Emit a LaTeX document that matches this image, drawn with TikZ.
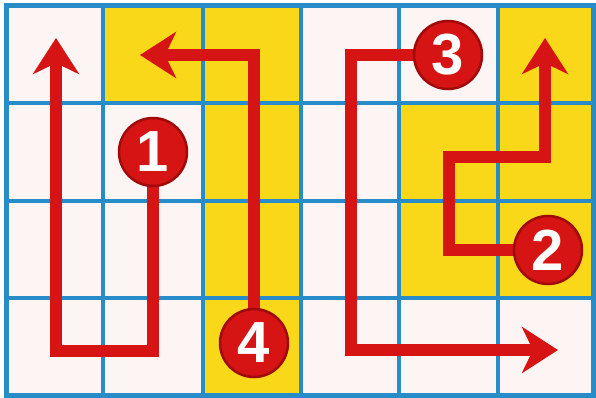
\documentclass[tikz,border=0pt]{standalone}
\usepackage{fontspec}
\setmainfont{Liberation Sans}
\usetikzlibrary{arrows.meta}
\definecolor{gridblue}{RGB}{40,140,200}
\definecolor{cellyellow}{RGB}{248,216,24}
\definecolor{cellwhite}{RGB}{252,245,243}
\definecolor{pathred}{RGB}{214,20,20}
\definecolor{darkred}{RGB}{160,10,10}
\tikzset{
  gridline/.style={draw=gridblue, line width=4pt},
  redpath/.style={draw=pathred, line width=12pt, line join=miter,
    -{Stealth[length=36pt, width=46pt, inset=11pt]}},
  numc/.style={circle, fill=pathred, draw=darkred, line width=2.5pt,
    minimum size=68pt, inner sep=0pt, text=white,
    font=\fontsize{58}{58}\selectfont\bfseries}
}
\begin{document}
\begin{tikzpicture}[x=1pt,y=-1pt]
\useasboundingbox (0,0) rectangle (596,398);
\fill[white] (0,0) rectangle (596,398);
% cells
\fill[cellwhite] (6,6) rectangle (593,395);
\fill[cellyellow] (103,6) rectangle (301,103);
\fill[cellyellow] (498,6) rectangle (593,103);
\fill[cellyellow] (203,103) rectangle (301,395);
\fill[cellyellow] (399,103) rectangle (593,298);
% grid
\foreach \x in {103,203,301,399,498} \draw[gridline] (\x,6) -- (\x,395);
\foreach \y in {103,201,298} \draw[gridline] (6,\y) -- (593,\y);
\draw[draw=gridblue, line width=5pt] (6,6) rectangle (593,395);
% path 1
\coordinate (c1) at (153,152);
\coordinate (a1) at (153,351);
\coordinate (b1) at (56,351);
\coordinate (t1) at (56,38);
\draw[redpath] (c1) -- (a1) -- (b1) -- (t1);
% path 4
\coordinate (c4) at (254,343);
\coordinate (a4) at (254,55);
\coordinate (t4) at (140,55);
\draw[redpath] (c4) -- (a4) -- (t4);
% path 3
\coordinate (c3) at (448,55);
\coordinate (a3) at (351,55);
\coordinate (b3) at (351,350);
\coordinate (t3) at (558,350);
\draw[redpath] (c3) -- (a3) -- (b3) -- (t3);
% path 2
\coordinate (c2) at (548,250);
\coordinate (a2) at (449,250);
\coordinate (b2) at (449,157);
\coordinate (d2) at (545,157);
\coordinate (t2) at (545,38);
\draw[redpath] (c2) -- (a2) -- (b2) -- (d2) -- (t2);
% numbered circles
\node[numc] (n1) at (c1) {1};
\node[numc] (n2) at (c2) {2};
\node[numc] (n3) at (c3) {3};
\node[numc] (n4) at (c4) {4};
\end{tikzpicture}
\end{document}
